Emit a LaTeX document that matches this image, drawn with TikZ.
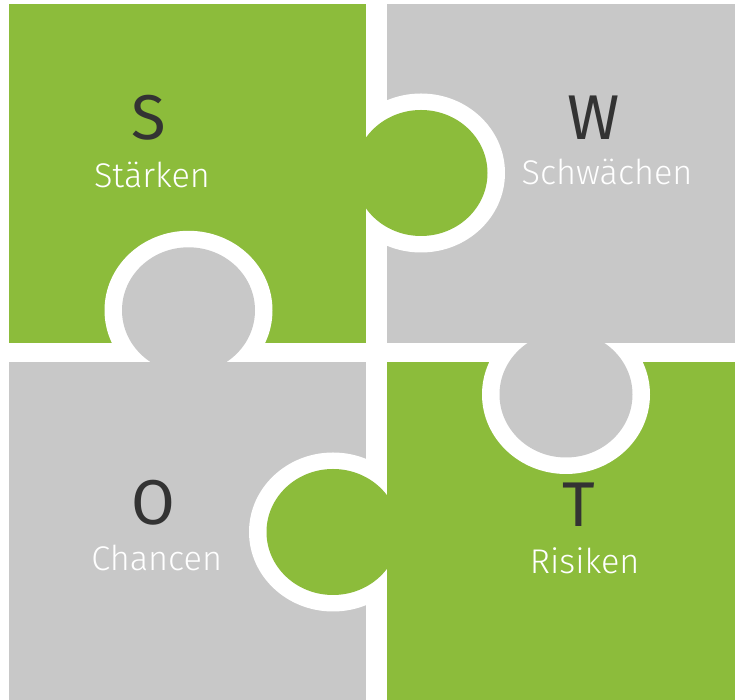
\documentclass[tikz,border=0pt]{standalone}
\usepackage{fontspec}
\setmainfont{Fira Sans}
\IfFontExistsTF{Fira Sans Light}{\newfontfamily\lightfont{Fira Sans Light}}{\newfontfamily\lightfont{Fira Sans}}
\definecolor{swotgreen}{HTML}{8CBC3B}
\definecolor{swotgray}{HTML}{C8C8C8}
\definecolor{swotdark}{HTML}{333333}
\begin{document}
\begin{tikzpicture}[x=0.02cm, y=0.02cm,
  letter/.style={anchor=base, inner sep=0pt, text=swotdark, font=\fontsize{36}{40}\selectfont},
  word/.style={anchor=base, inner sep=0pt, text=white, font=\lightfont\fontsize{19.5}{22}\selectfont},
  ring/.style={fill=white},
  knob/.style={}]
\useasboundingbox (0,0) rectangle (735,700);
\fill[white] (0,0) rectangle (735,700);
% the four tiles
\fill[swotgreen] (9.5,357) rectangle (366,696.3);
\fill[swotgray] (387,357) rectangle (735,696.3);
\fill[swotgray] (9.5,0) rectangle (366,338);
\fill[swotgreen] (387,0) rectangle (735,338);
% white rings, only on the tile the knob goes into
\begin{scope}
  \clip (387,357) rectangle (735,696.3);
  \fill[ring] (421,527) ellipse (84 and 79.5);
\end{scope}
\begin{scope}
  \clip (9.5,357) rectangle (366,696.3);
  \fill[ring] (188.5,389.7) ellipse (84 and 79.5);
\end{scope}
\begin{scope}
  \clip (387,0) rectangle (735,338);
  \fill[ring] (566,305.5) ellipse (84 and 79.5);
\end{scope}
\begin{scope}
  \clip (9.5,0) rectangle (366,338);
  \fill[ring] (333,168) ellipse (84 and 79.5);
\end{scope}
% knobs
\fill[knob, swotgreen] (421,527) ellipse (66.5 and 63);
\fill[knob, swotgray] (188.5,389.7) ellipse (66.5 and 63);
\fill[knob, swotgray] (566,305.5) ellipse (66.5 and 63);
\fill[knob, swotgreen] (333,168) ellipse (66.5 and 63);
% texts
\node[letter] (s) at (148.5,560) {S};
\node[word] (sText) at (152,512) {Stärken};
\node[letter] (w) at (594,560) {W};
\node[word] (wText) at (607,515) {Schwächen};
\node[letter] (o) at (153,175) {O};
\node[word] (oText) at (156.7,129) {Chancen};
\node[letter] (t) at (578.5,173) {T};
\node[word] (tText) at (584.7,126) {Risiken};
\end{tikzpicture}
\end{document}
